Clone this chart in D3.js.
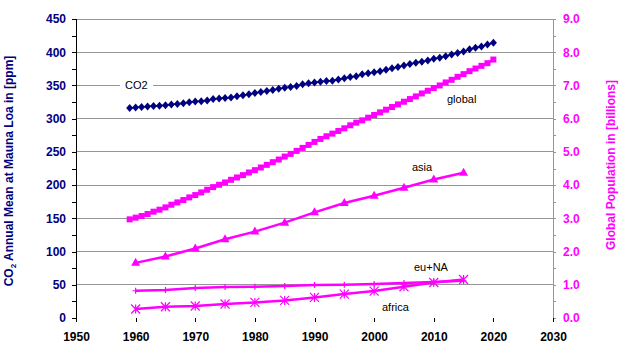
<!DOCTYPE html>
<html><head><meta charset="utf-8">
<script src="https://cdn.jsdelivr.net/npm/d3@7"></script>
<style>body{margin:0;background:#fff}svg{display:block}text{font-family:Arial,"Liberation Sans",sans-serif}</style>
</head><body><svg id="c" width="621" height="348"></svg>
<script>
const co2Years = d3.range(1959, 2021);
const co2Values = [315.97,316.91,317.64,318.45,318.99,319.62,320.04,321.38,322.16,323.04,324.62,325.68,326.32,327.46,329.68,330.19,331.12,332.03,333.84,335.41,336.84,338.76,340.12,341.48,343.15,344.85,346.35,347.61,349.31,351.69,353.20,354.45,355.70,356.54,357.21,358.96,360.97,362.74,363.88,366.84,368.54,369.71,371.32,373.45,375.98,377.70,379.98,382.09,384.02,385.83,387.64,390.10,391.85,394.06,396.74,398.81,401.01,404.41,406.76,408.72,411.66,414.24];
const globalYears = d3.range(1959, 2021);
const globalPop = [2.97,3.02,3.07,3.13,3.20,3.26,3.33,3.41,3.48,3.55,3.63,3.70,3.78,3.86,3.94,4.01,4.08,4.16,4.23,4.30,4.38,4.45,4.53,4.61,4.69,4.77,4.86,4.94,5.03,5.12,5.21,5.30,5.39,5.47,5.55,5.63,5.71,5.80,5.88,5.95,6.03,6.11,6.19,6.27,6.35,6.43,6.51,6.59,6.67,6.76,6.84,6.92,7.00,7.09,7.17,7.26,7.34,7.43,7.51,7.59,7.67,7.78];
const regionYears = [1960,1965,1970,1975,1980,1985,1990,1995,2000,2005,2010,2015];
const asiaPop = [1.66,1.85,2.09,2.37,2.60,2.87,3.18,3.46,3.68,3.92,4.17,4.37];
const euNaPop = [0.82,0.84,0.90,0.93,0.94,0.96,0.99,1.00,1.02,1.05,1.08,1.12];
const africaPop = [0.27,0.34,0.36,0.42,0.47,0.53,0.62,0.72,0.81,0.94,1.07,1.16];
const xTicks = d3.range(1950, 2031, 10);
const leftTicks = d3.range(0, 451, 50);
const rightTicks = d3.range(0, 9.01, 1);

const L=76, R=553, T=19, B=318;
const NAVY="#000080", MAG="#FF00FF", GRID="#969696";
const svg=d3.select("#c");
const x=d3.scaleLinear().domain([1950,2030]).range([L,R]);
const yL=d3.scaleLinear().domain([0,450]).range([B,T]);
const yR=d3.scaleLinear().domain([0,9]).range([B,T]);

// gridlines
svg.append("g").selectAll("line").data(leftTicks.filter(v=>v>0)).join("line")
  .attr("x1",L).attr("x2",R).attr("y1",d=>yL(d)).attr("y2",d=>yL(d))
  .attr("stroke",GRID).attr("stroke-width",1).attr("shape-rendering","crispEdges");

// left axis
const gl=svg.append("g").attr("transform",`translate(${L},0)`);
gl.call(d3.axisLeft(yL).tickValues(leftTicks).tickSize(4).tickPadding(6).tickFormat(d3.format("d")));
gl.append("g").call(d3.axisLeft(yL).tickValues(d3.range(25,451,50)).tickSize(4).tickFormat(""));
gl.selectAll("path,line").attr("stroke","#000").attr("shape-rendering","crispEdges");
gl.select(".domain").attr("d",`M0,${T}V${B}`);
gl.selectAll("g g .domain").remove();
gl.selectAll("text").attr("fill",NAVY).attr("font-size",12).attr("font-weight","bold").attr("font-family","Arial, Liberation Sans, sans-serif");

// right axis
const gr=svg.append("g").attr("transform",`translate(${R},0)`);
gr.call(d3.axisRight(yR).tickValues(rightTicks).tickSize(3).tickPadding(7).tickFormat(d3.format(".1f")));
gr.append("g").call(d3.axisRight(yR).tickValues(d3.range(0.5,9,1)).tickSize(3).tickFormat(""));
gr.selectAll("path,line").attr("stroke",GRID).attr("shape-rendering","crispEdges");
gr.select(".domain").attr("d",`M0,${T}V${B}`);
gr.selectAll("g g .domain").remove();
gr.selectAll("text").attr("fill",MAG).attr("font-size",12).attr("font-weight","bold").attr("font-family","Arial, Liberation Sans, sans-serif");

// x axis
const gx=svg.append("g").attr("transform",`translate(0,${B})`);
gx.append("g").call(d3.axisBottom(x).tickValues(d3.range(1950,2031,1)).tickSize(4).tickFormat(""));
gx.call(d3.axisBottom(x).tickValues(xTicks).tickSize(4).tickPadding(10).tickFormat(d3.format("d")));
gx.selectAll(":scope > .tick line").attr("y1",-3);
gx.selectAll("path,line").attr("stroke","#000").attr("shape-rendering","crispEdges");
gx.select(":scope > .domain").attr("d",`M${L},0H${R}`);
gx.selectAll("g g .domain").remove();
gx.selectAll("text").attr("fill","#000").attr("font-size",12).attr("font-weight","bold").attr("font-family","Arial, Liberation Sans, sans-serif");

// series
const plot=svg.append("g");
function lineOf(xs,ys,sc){return d3.line().x((d,i)=>x(xs[i])).y(d=>sc(d))(ys);}

// global
plot.append("path").attr("d",lineOf(globalYears,globalPop,yR)).attr("fill","none").attr("stroke",MAG).attr("stroke-width",2.5);
plot.append("g").selectAll("rect").data(globalPop).join("rect")
  .attr("x",(d,i)=>x(globalYears[i])-3).attr("y",d=>yR(d)-3).attr("width",6).attr("height",6).attr("fill",MAG);

// asia
plot.append("path").attr("d",lineOf(regionYears,asiaPop,yR)).attr("fill","none").attr("stroke",MAG).attr("stroke-width",2.5);
plot.append("g").selectAll("path").data(asiaPop).join("path")
  .attr("d",(d,i)=>{const cx=x(regionYears[i]),cy=yR(d);return `M${cx},${cy-5}L${cx+4.5},${cy+3}L${cx-4.5},${cy+3}Z`;}).attr("fill",MAG);

// eu+NA
plot.append("path").attr("d",lineOf(regionYears,euNaPop,yR)).attr("fill","none").attr("stroke",MAG).attr("stroke-width",2.5);
plot.append("g").selectAll("path").data(euNaPop).join("path")
  .attr("d",(d,i)=>{const cx=x(regionYears[i]),cy=yR(d);return `M${cx-3},${cy}H${cx+3}M${cx},${cy-3}V${cy+3}`;}).attr("stroke",MAG).attr("stroke-width",1.2);

// africa
plot.append("path").attr("d",lineOf(regionYears,africaPop,yR)).attr("fill","none").attr("stroke",MAG).attr("stroke-width",2.5);
plot.append("g").selectAll("path").data(africaPop).join("path")
  .attr("d",(d,i)=>{const cx=x(regionYears[i]),cy=yR(d),r=4.5;return `M${cx-r},${cy-r}L${cx+r},${cy+r}M${cx-r},${cy+r}L${cx+r},${cy-r}M${cx},${cy-r}V${cy+r}`;}).attr("stroke",MAG).attr("stroke-width",1.2).attr("fill","none");

// CO2
plot.append("path").attr("d",lineOf(co2Years,co2Values,yL)).attr("fill","none").attr("stroke",NAVY).attr("stroke-width",1.5);
plot.append("g").selectAll("path").data(co2Values).join("path")
  .attr("d",(d,i)=>{const cx=x(co2Years[i]),cy=yL(d);return `M${cx},${cy-4}L${cx+3.5},${cy}L${cx},${cy+4}L${cx-3.5},${cy}Z`;}).attr("fill",NAVY);

// series labels
const lab=svg.append("g").attr("font-size",11).attr("fill","#000");
lab.append("rect").attr("x",120).attr("y",78).attr("width",33).attr("height",14).attr("fill","#fff");
lab.append("text").attr("x",125).attr("y",89).text("CO2");
lab.append("text").attr("x",447).attr("y",103).text("global");
lab.append("text").attr("x",412).attr("y",171).text("asia");
lab.append("text").attr("x",414).attr("y",271).text("eu+NA");
lab.append("text").attr("x",382).attr("y",311).text("africa");

// axis titles
const lt=svg.append("text").attr("transform","translate(13,171) rotate(-90)").attr("text-anchor","middle")
  .attr("font-size",12).attr("font-weight","bold").attr("fill",NAVY);
lt.append("tspan").text("CO");
lt.append("tspan").attr("font-size",8).attr("dy",3).text("2");
lt.append("tspan").attr("dy",-3).text(" Annual Mean at Mauna Loa in [ppm]");
svg.append("text").attr("transform","translate(615,165) rotate(-90)").attr("text-anchor","middle")
  .attr("font-size",12).attr("font-weight","bold").attr("fill",MAG).text("Global Population in [billions]");
</script></body></html>
